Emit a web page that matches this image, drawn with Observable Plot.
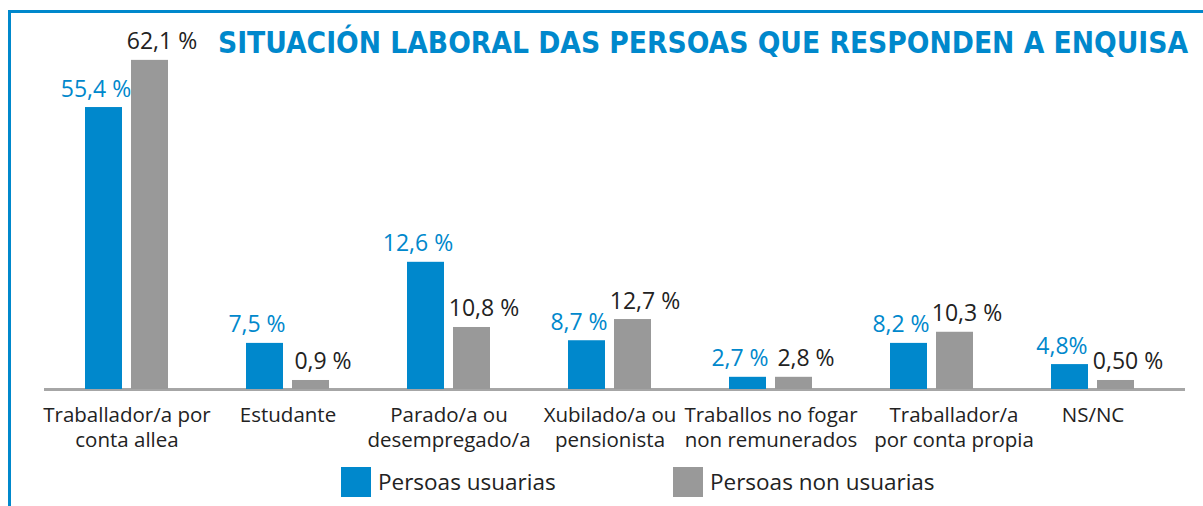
<!DOCTYPE html>
<html><head><meta charset="utf-8">
<script src="https://cdn.jsdelivr.net/npm/d3@7"></script>
<script src="https://cdn.jsdelivr.net/npm/@observablehq/plot@0.6"></script>
<style>
body{margin:0;background:#fff;}
#chart{position:relative;width:1203px;height:506px;overflow:hidden;}
</style>
</head><body><div id="chart"></div>
<script>
const categories = ["Traballador/a por\nconta allea","Estudante","Parado/a ou\ndesempregado/a","Xubilado/a ou\npensionista","Traballos no fogar\nnon remunerados","Traballador/a\npor conta propia","NS/NC"];
const seriesNames = ["Persoas usuarias","Persoas non usuarias"];
// bar heights as drawn in the picture (percent)
const usuarias = [53.2, 8.7, 24.0, 9.2, 2.3, 8.7, 4.7];
const nonUsuarias = [62.1, 1.7, 11.7, 13.2, 2.3, 10.8, 1.7];
// value labels as printed
const usuariasLabels = ["55,4 %","7,5 %","12,6 %","8,7 %","2,7 %","8,2 %","4,8%"];
const nonUsuariasLabels = ["62,1 %","0,9 %","10,8 %","12,7 %","2,8 %","10,3 %","0,50 %"];
const title = "SITUACIÓN LABORAL DAS PERSOAS QUE RESPONDEN A ENQUISA";

const BLUE = "#0088cc", GRAY = "#999999", DARK = "#222222";
const FONT = "Open Sans";

const rows = categories.map((c, i) => ({cat: c, u: usuarias[i], n: nonUsuarias[i], ul: usuariasLabels[i], nl: nonUsuariasLabels[i]}));
const shifted = categories[5];

const chart = Plot.plot({
  width: 1203, height: 506,
  marginLeft: 44, marginRight: 18, marginTop: 18, marginBottom: 117,
  style: {fontFamily: FONT, background: "#fff"},
  x: {domain: categories, range: [43, 1176], padding: 0, axis: null},
  y: {domain: [0, 70], axis: null},
  marks: [
    Plot.ruleY([0], {stroke: "#a6a6a6", strokeWidth: 3}),
    Plot.barY(rows, {x: "cat", y: "u", fill: BLUE, insetLeft: 39, insetRight: 85}),
    Plot.barY(rows, {x: "cat", y: "n", fill: GRAY, insetLeft: 85, insetRight: 39}),
    Plot.text(rows, {x: "cat", y: "u", text: "ul", fill: BLUE, dx: -31, dy: -11, lineAnchor: "bottom", fontSize: 23}),
    Plot.text(rows, {x: "cat", y: "n", text: "nl", fill: DARK, dx: 35, dy: -11, lineAnchor: "bottom", fontSize: 23}),
    Plot.text(rows.filter(d => d.cat !== shifted), {x: "cat", frameAnchor: "bottom", text: "cat", fill: DARK, lineAnchor: "top", dy: 14, fontSize: 20.5, lineHeight: 1.25}),
    Plot.text(rows.filter(d => d.cat === shifted), {x: "cat", frameAnchor: "bottom", text: "cat", fill: DARK, lineAnchor: "top", dy: 14, dx: 22, fontSize: 20.5, lineHeight: 1.25})
  ]
});

document.getElementById("chart").appendChild(chart);
const svg = d3.select(chart);

// frame
svg.append("path").attr("d", "M9.5,506V11.5H1203").attr("fill", "none").attr("stroke", BLUE).attr("stroke-width", 3);

// title
svg.append("text").attr("x", 218).attr("y", 53).attr("text-anchor", "start")
  .attr("font-family", "DejaVu Sans Condensed, DejaVu Sans").attr("font-weight", "bold")
  .attr("font-size", 30).attr("fill", BLUE)
  .attr("textLength", 970).attr("lengthAdjust", "spacingAndGlyphs")
  .text(title);

// legend
const leg = [{name: seriesNames[0], color: BLUE, x: 341}, {name: seriesNames[1], color: GRAY, x: 673}];
const g = svg.append("g");
leg.forEach(d => {
  g.append("rect").attr("x", d.x).attr("y", 467).attr("width", 30).attr("height", 30).attr("fill", d.color);
  g.append("text").attr("x", d.x + 37).attr("y", 490).attr("text-anchor", "start").attr("font-family", FONT).attr("font-size", 22.5).attr("fill", DARK).text(d.name);
});
</script>
</body></html>
